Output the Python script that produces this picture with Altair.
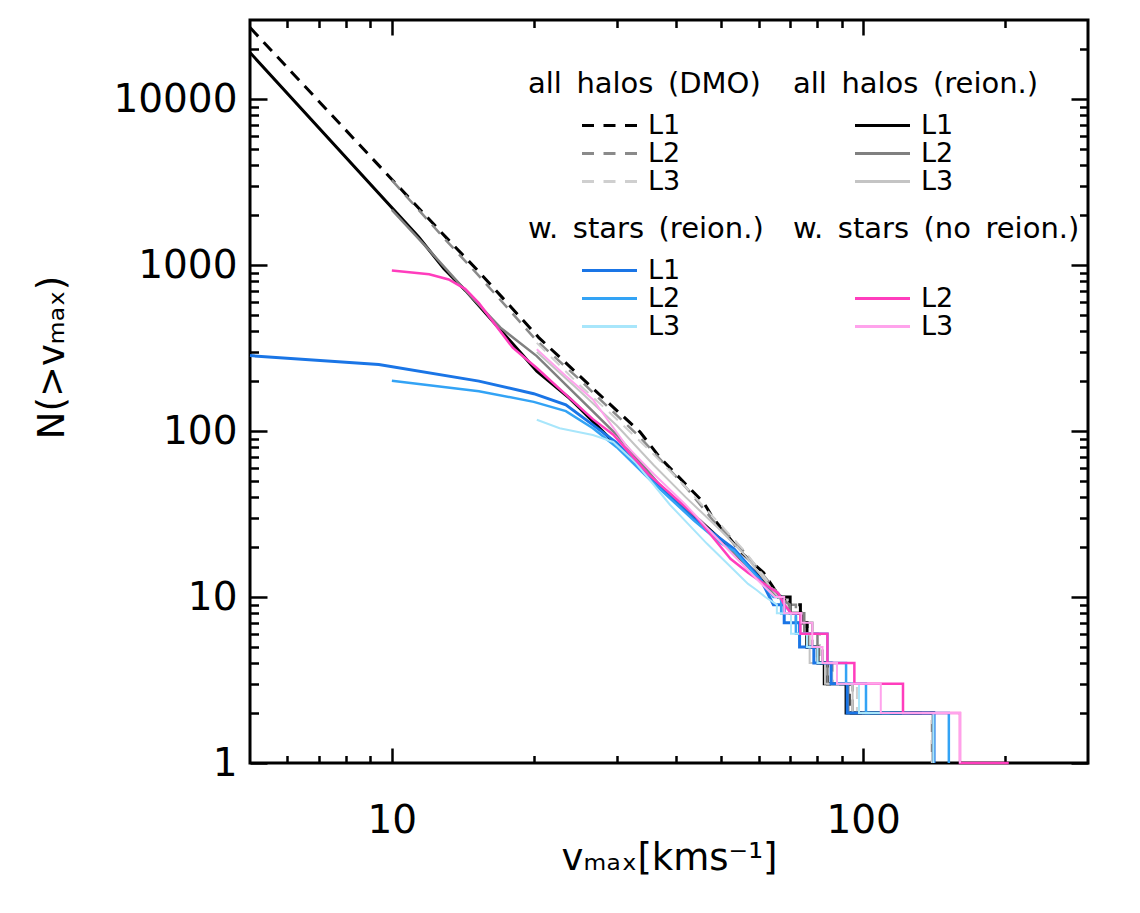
import altair as alt
import pandas as pd

FONT = "DejaVu Sans"
LEVELS = ["L1", "L2", "L3"]

# ---------------- data: cumulative N(>vmax) ----------------
# all halos, dark matter only (dashed)
dmo_l1_v = [5.0, 13.0, 15.2, 20.5, 28.1, 33.6, 37.1, 45.9, 48.0, 55.0, 61.5, 65.6, 70.0, 73.6, 73.6, 76.0, 76.0, 80.0, 80.0, 84.0, 84.0, 93.4, 93.4, 140.8, 140.8]
dmo_l1_n = [27000, 1480, 930, 366, 158, 99, 69, 37, 30, 18.7, 14, 10.6, 9, 9, 7, 7, 5, 5, 4, 4, 3, 3, 2, 2, 1]
dmo_l2_v = [10.0, 13.0, 15.2, 20.3, 25.0, 28.0, 33.6, 42.3, 48.0, 54.0, 61.5, 66.0, 70.0, 72.0, 72.0, 78.0, 78.0, 82.0, 82.0, 86.0, 86.0, 95.0, 95.0, 140.0, 140.0]
dmo_l2_n = [3250, 1420, 880, 350, 205, 150, 92, 45, 29, 21, 13.5, 10.5, 9, 9, 7, 7, 5, 5, 4, 4, 3, 3, 2, 2, 1]
dmo_l3_v = [20.3, 25.0, 30.0, 35.0, 42.0, 50.0, 56.0, 62.0, 66.0, 69.0, 69.0, 75.0, 75.0, 81.0, 81.0, 86.0, 86.0, 97.0, 97.0, 140.0, 140.0]
dmo_l3_n = [340, 190, 118, 78, 46, 27, 19, 13, 10, 10, 8, 8, 6, 6, 4, 4, 3, 3, 2, 2, 1]

# all halos, with reionization (solid)
rei_l1_v = [5.0, 11.4, 12.9, 14.35, 18.05, 20.3, 23.8, 25.0, 31.4, 33.6, 40.0, 45.0, 50.0, 55.0, 60.0, 66.0, 70.0, 70.0, 74.0, 74.0, 76.0, 76.0, 80.2, 80.2, 82.7, 82.7, 92.0, 92.0, 141.0, 141.0]
rei_l1_n = [19100, 1478, 950, 700, 336, 230, 158, 138, 72, 60, 38, 29, 22, 17, 13.5, 10, 10, 8, 8, 7, 7, 5, 5, 4, 4, 3, 3, 2, 2, 1]
rei_l2_v = [10.0, 12.0, 14.35, 17.0, 20.3, 25.0, 30.0, 37.1, 45.0, 48.9, 55.0, 60.0, 66.0, 70.0, 70.0, 75.0, 75.0, 80.0, 80.0, 84.0, 84.0, 93.0, 93.0, 141.0, 141.0]
rei_l2_n = [2150, 1230, 700, 420, 283, 158, 95, 47, 29, 22.5, 17, 13, 10, 9, 8, 8, 6, 6, 4, 4, 3, 3, 2, 2, 1]
rei_l3_v = [20.3, 25.0, 30.0, 36.0, 42.0, 50.0, 56.0, 62.0, 67.0, 67.0, 72.0, 72.0, 77.0, 77.0, 83.0, 83.0, 95.0, 95.0, 141.0, 141.0]
rei_l3_n = [300, 175, 108, 62, 40, 25, 18, 12.5, 9.5, 8, 8, 6, 6, 4, 4, 3, 3, 2, 2, 1]

# haloes with stars, with reionization
str_l1_v = [5.0, 9.38, 15.3, 20.0, 23.4, 26.7, 30.0, 35.8, 43.7, 53.2, 60.6, 64.5, 68.0, 68.0, 73.3, 73.3, 78.6, 78.6, 85.5, 85.5, 92.5, 92.5, 141.4, 141.4]
str_l1_n = [285, 252, 200, 168, 144, 109, 85, 50, 29.7, 19.5, 12.8, 9, 9, 7, 7, 5, 5, 4, 4, 3, 3, 2, 2, 1]
str_l2_v = [10.0, 15.3, 20.0, 23.4, 26.7, 30.0, 35.8, 43.7, 50.0, 53.2, 60.6, 64.5, 67.0, 67.0, 72.0, 72.0, 84.0, 84.0, 92.0, 92.0, 101.4, 101.4, 152.0, 152.0]
str_l2_n = [201, 174, 150, 132, 104, 80, 49, 29, 21, 19, 12.5, 10, 10, 8, 8, 6, 6, 4, 4, 3, 3, 2, 2, 1]
str_l3_v = [20.3, 22.7, 26.7, 29.5, 33.0, 38.9, 46.6, 52.0, 57.0, 59.5, 62.0, 65.6, 65.6, 70.3, 70.3, 76.0, 76.0, 80.0, 80.0, 88.0, 88.0, 98.0, 98.0, 141.0, 141.0]
str_l3_n = [117, 104, 94.7, 86, 64, 36, 21, 15.5, 12, 11, 10, 9, 8, 8, 6, 6, 5, 5, 4, 4, 3, 3, 2, 2, 1]

# haloes with stars, no reionization
nor_l2_v = [10.0, 12.0, 13.2, 14.3, 15.3, 18.05, 20.3, 23.4, 26.7, 29.5, 35.0, 44.0, 52.3, 57.0, 62.5, 66.0, 68.0, 70.3, 73.6, 73.6, 84.0, 84.0, 95.8, 95.8, 121.5, 121.5, 160.5, 160.5, 203.7]
nor_l2_n = [929, 880, 820, 720, 590, 318, 240, 166, 118, 95, 55, 31, 17, 14, 11.7, 10.6, 9, 8, 8, 6, 6, 4, 4, 3, 3, 2, 2, 1, 1]
nor_l3_v = [20.3, 23.4, 26.7, 31.4, 36.0, 42.0, 48.0, 54.0, 60.0, 65.0, 68.0, 68.0, 74.0, 74.0, 78.0, 78.0, 82.0, 82.0, 88.0, 88.0, 109.0, 109.0, 160.5, 160.5]
nor_l3_n = [311, 215, 155, 82, 55, 36, 24, 17, 12.5, 10, 10, 8, 8, 7, 7, 5, 5, 4, 4, 3, 3, 2, 2, 1]

# axis tick values
x_label_values = [10, 100]
x_minor = [6, 7, 8, 9, 20, 30, 40, 50, 60, 70, 80, 90, 200]
y_label_values = [1, 10, 100, 1000, 10000]
y_minor = [2, 3, 4, 5, 6, 7, 8, 9, 20, 30, 40, 50, 60, 70, 80, 90,
           200, 300, 400, 500, 600, 700, 800, 900,
           2000, 3000, 4000, 5000, 6000, 7000, 8000, 9000, 20000]

series = [
    ("dmo", "L1", dmo_l1_v, dmo_l1_n), ("dmo", "L2", dmo_l2_v, dmo_l2_n), ("dmo", "L3", dmo_l3_v, dmo_l3_n),
    ("rei", "L1", rei_l1_v, rei_l1_n), ("rei", "L2", rei_l2_v, rei_l2_n), ("rei", "L3", rei_l3_v, rei_l3_n),
    ("str", "L1", str_l1_v, str_l1_n), ("str", "L2", str_l2_v, str_l2_n), ("str", "L3", str_l3_v, str_l3_n),
    ("nor", "L2", nor_l2_v, nor_l2_n), ("nor", "L3", nor_l3_v, nor_l3_n),
]
rows = []
for g, lev, vs, ns in series:
    for i, (v, n) in enumerate(zip(vs, ns)):
        rows.append({"group": g, "level": lev, "v": v, "n": n, "idx": i})
df = pd.DataFrame(rows)

XS = alt.Scale(type="log", domain=[5, 300], nice=False)
YS = alt.Scale(type="log", domain=[1, 30000], nice=False)

SP = "\u2002"  # wide word spacing as in the original lettering

LEG = dict(orient="none", titleFont=FONT, titleFontSize=29, titleFontWeight="normal",
           titleColor="black", titleLimit=600, titlePadding=13, labelFont=FONT,
           labelFontSize=27, labelColor="black", symbolType="stroke", symbolSize=3025,
           symbolStrokeWidth=3, clipHeight=27, rowPadding=0, padding=0, labelLimit=200)


def series_layer(group, title, colors, lx, ly, sym_off, lab_off, dash=None):
    mark_kw = dict(clip=False, strokeCap="butt", strokeJoin="miter")
    leg = dict(LEG, legendX=lx, legendY=ly, title=title, symbolOffset=sym_off, labelOffset=lab_off)
    if dash:
        mark_kw["strokeDash"] = dash
        leg["symbolDash"] = [12, 9.5]
    if group == "nor":
        leg["labelExpr"] = "datum.label == 'L1' ? '' : datum.label"
    return alt.Chart(df).transform_filter(alt.datum.group == group).mark_line(**mark_kw).encode(
        x=alt.X("v:Q", scale=XS, axis=None),
        y=alt.Y("n:Q", scale=YS, axis=None),
        color=alt.Color("level:N", scale=alt.Scale(domain=LEVELS, range=colors), legend=alt.Legend(**leg)),
        strokeWidth=alt.StrokeWidth("level:O", scale=alt.Scale(type="ordinal", domain=LEVELS, range=[3.0, 2.5, 2.0]), legend=None),
        order=alt.Order("idx:Q"),
    )


def tick_axis(orient, values, size):
    return alt.Axis(orient=orient, values=values, labels=False, domain=False, grid=False,
                    ticks=True, tickSize=size, offset=-size, tickWidth=2.5, tickColor="black")


def axis_layer(xaxis, yaxis, xtitle=None, ytitle=None):
    return alt.Chart(df).mark_point(opacity=0).encode(
        x=alt.X("v:Q", scale=XS, axis=xaxis, title=xtitle),
        y=alt.Y("n:Q", scale=YS, axis=yaxis, title=ytitle),
    )


label_x = alt.Axis(orient="bottom", values=x_label_values, format="d", ticks=False, tickSize=0,
                   domain=False, grid=False, labelFont=FONT, labelFontSize=39, labelColor="black",
                   labelPadding=38, labelFlush=False, titleFont=FONT, titleFontSize=37,
                   titleFontWeight="normal", titleColor="black", titleY=95, titleBaseline="middle")
label_y = alt.Axis(orient="left", values=y_label_values, format="d", ticks=False, tickSize=0,
                   domain=False, grid=False, labelFont=FONT, labelFontSize=39, labelColor="black",
                   labelPadding=13, labelFlush=False, titleFont=FONT, titleFontSize=37,
                   titleFontWeight="normal", titleColor="black", titleX=-198, titleY=337,
                   titleBaseline="middle")

layers = [
    series_layer("dmo", f"all{SP}halos{SP}(DMO)", ["#000000", "#8a8a8a", "#cfcfcf"], 278, 50, 52.5, 9.5, dash=[12, 8]),
    series_layer("rei", f"all{SP}halos{SP}(reion.)", ["#000000", "#808080", "#c4c4c4"], 543, 50, 60.5, 9.5),
    series_layer("str", f"w.{SP}stars{SP}(reion.)", ["#1a75e6", "#33a3f5", "#a8e6fb"], 278, 195, 52.5, 9.5),
    series_layer("nor", f"w.{SP}stars{SP}(no{SP}reion.)", ["rgba(0,0,0,0)", "#ff3dbd", "#ffa3ec"], 543, 195, 60.5, 9.5),
    axis_layer(label_x, label_y, "vₘₐₓ[kms⁻¹]", "N(>vₘₐₓ)"),
    axis_layer(tick_axis("bottom", x_label_values, 15), tick_axis("left", y_label_values, 17)),
    axis_layer(tick_axis("bottom", x_minor, 7.5), tick_axis("left", y_minor, 8.5)),
    axis_layer(tick_axis("top", x_label_values, 15), tick_axis("right", y_label_values, 17)),
    axis_layer(tick_axis("top", x_minor, 7.5), tick_axis("right", y_minor, 8.5)),
]

chart = alt.layer(*layers).resolve_scale(color="independent").resolve_axis(
    x="independent", y="independent").resolve_legend(color="independent").properties(
    width=838, height=743,
    background="white",
    autosize=alt.AutoSizeParams(type="none"),
    padding={"left": 242, "top": 12, "right": 40, "bottom": 120},
).configure_view(stroke="black", strokeWidth=3)

chart.save("out.html", embed_options={"renderer": "svg", "actions": False})
